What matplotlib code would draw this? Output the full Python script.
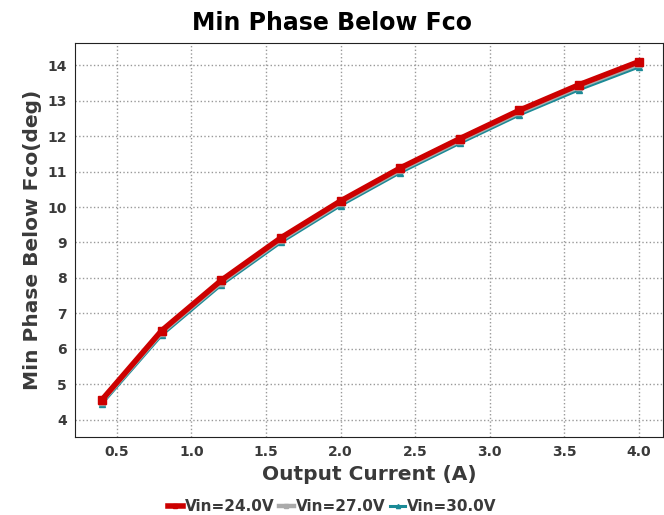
import matplotlib
matplotlib.use("Agg")
import matplotlib.pyplot as plt

current = [0.4, 0.8, 1.2, 1.6, 2.0, 2.4, 2.8, 3.2, 3.6, 4.0]
phase_24v = [4.56, 6.51, 7.93, 9.13, 10.17, 11.10, 11.93, 12.73, 13.45, 14.10]
phase_27v = [4.51, 6.45, 7.87, 9.07, 10.11, 11.04, 11.87, 12.67, 13.39, 14.03]
phase_30v = [4.45, 6.38, 7.80, 9.00, 10.04, 10.97, 11.80, 12.60, 13.31, 13.95]
labels = ["Vin=24.0V", "Vin=27.0V", "Vin=30.0V"]

txt = "#3a3a3a"
fig, ax = plt.subplots(figsize=(6.64, 5.15), dpi=100)
fig.subplots_adjust(left=0.113, right=0.998, top=0.916, bottom=0.152)

ax.plot(current, phase_30v, color="#1a8a96", lw=2.2, marker="^", ms=5, label=labels[2], zorder=3)
ax.plot(current, phase_27v, color="#aaaaaa", lw=3.2, marker="s", ms=5, label=labels[1], zorder=4)
ax.plot(current, phase_24v, color="#cc0000", lw=4, marker="s", ms=6, label=labels[0], zorder=5)

ax.set_xlim(0.22, 4.16)
ax.set_ylim(3.52, 14.62)
ax.set_xticks([0.5, 1.0, 1.5, 2.0, 2.5, 3.0, 3.5, 4.0])
ax.set_yticks(range(4, 15))
ax.grid(True, linestyle=":", color="#999999", lw=1)
ax.tick_params(length=0, labelsize=10, labelcolor=txt, pad=6)
for t in ax.get_xticklabels() + ax.get_yticklabels():
    t.set_fontweight("bold")
for s in ax.spines.values():
    s.set_color("#222222")

# title is centred on the whole figure, not the axes
fig.suptitle("Min Phase Below Fco", fontsize=17, fontweight="bold", x=0.5, y=0.978)
ax.set_xlabel("Output Current (A)", fontsize=14.5, fontweight="bold", color=txt, labelpad=4)
ax.set_ylabel("Min Phase Below Fco(deg)", fontsize=14.5, fontweight="bold", color=txt, labelpad=4)

h, l = ax.get_legend_handles_labels()
leg = fig.legend(h[::-1], l[::-1], loc="lower center", bbox_to_anchor=(0.5, -0.025), ncol=3,
                 frameon=False, handlelength=1.0, handletextpad=0.1, columnspacing=0.3,
                 markerscale=0.6, prop={"weight": "bold", "size": 11})
for t in leg.get_texts():
    t.set_color(txt)

fig.savefig("out.png", dpi=100)
